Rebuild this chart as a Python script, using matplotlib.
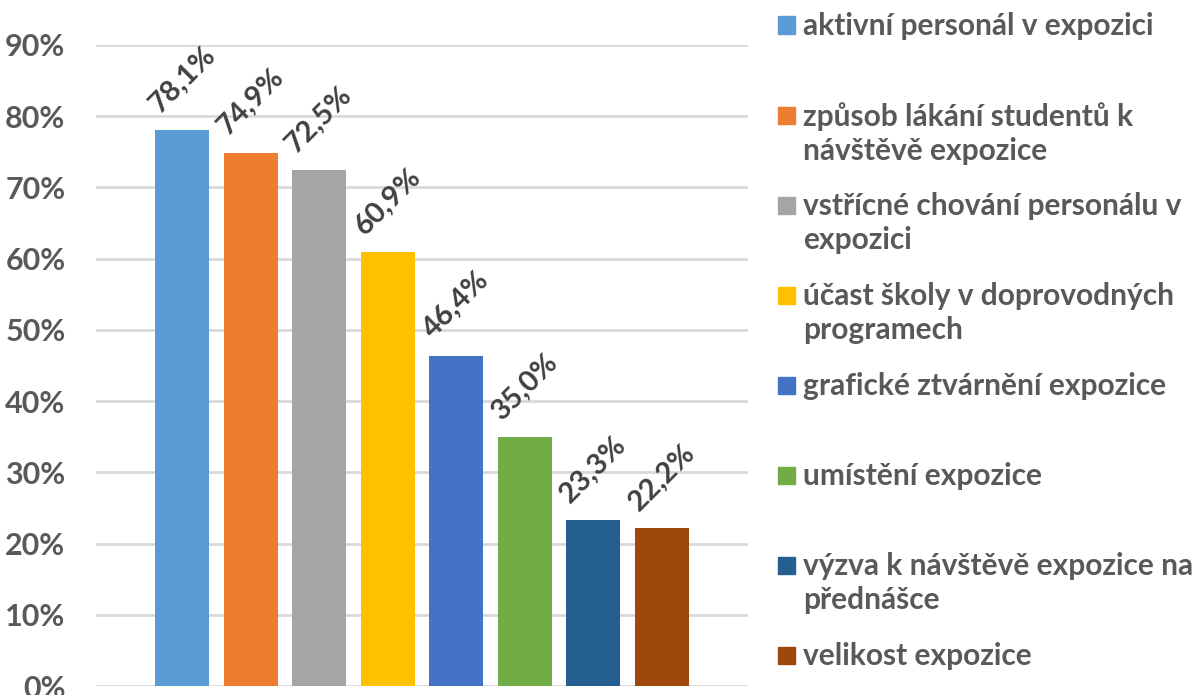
import matplotlib
matplotlib.use("Agg")
import matplotlib.pyplot as plt
from matplotlib.patches import Rectangle
from matplotlib.ticker import FuncFormatter

plt.rcParams['font.family'] = ['Lato', 'DejaVu Sans']
plt.rcParams['font.weight'] = 'bold'

labels = [
    "aktivní personál v expozici",
    "způsob lákání studentů k\nnávštěvě expozice",
    "vstřícné chování personálu v\nexpozici",
    "účast školy v doprovodných\nprogramech",
    "grafické ztvárnění expozice",
    "umístění expozice",
    "výzva k návštěvě expozice na\npřednášce",
    "velikost expozice",
]
values = [78.1, 74.9, 72.5, 60.9, 46.4, 35.0, 23.3, 22.2]
colors = ["#5B9BD5", "#ED7D31", "#A5A5A5", "#FFC000",
          "#4472C4", "#70AD47", "#255E91", "#9E480E"]
yticks = [0, 10, 20, 30, 40, 50, 60, 70, 80, 90]

W, H = 1192, 695
fig = plt.figure(figsize=(W / 100, H / 100), dpi=100)
ax = fig.add_axes([96 / W, (H - 686) / H, 652 / W, (686 - 45) / H])

x = list(range(len(values)))
bars = ax.bar(x, values, width=0.79, color=colors, zorder=3)

for b, v in zip(bars, values):
    ax.annotate(f"{v:.1f}%".replace(".", ","),
                (b.get_x() + b.get_width() / 2, v),
                xytext=(0, 9), textcoords="offset points",
                ha="center", va="bottom", rotation=45,
                fontsize=21, fontweight="bold", color="#404040")

ax.set_xlim(-1.26, 8.26)
ax.set_ylim(0, 90)
ax.set_yticks(yticks)
ax.yaxis.set_major_formatter(FuncFormatter(lambda v, p: f"{v:.0f}%"))
ax.set_xticks([])
ax.grid(axis="y", color="#D9D9D9", linewidth=2, zorder=0)
for s in ax.spines.values():
    s.set_visible(False)
ax.tick_params(axis="y", length=0, pad=22, labelsize=22, labelcolor="#595959")
for t in ax.get_yticklabels():
    t.set_fontweight("bold")

# legend drawn by hand, Excel style (swatch aligned to first line)
for i, (lab, c) in enumerate(zip(labels, colors)):
    yc = 25 + i * 90
    fig.add_artist(Rectangle((778 / W, 1 - (yc + 8.5) / H), 17 / W, 17 / H,
                             transform=fig.transFigure, color=c))
    fig.text(803 / W, 1 - (yc - 13) / H, lab, ha="left", va="top",
             fontsize=21.5, fontweight="bold", color="#595959", linespacing=1.25)

fig.savefig("out.png", dpi=100)
